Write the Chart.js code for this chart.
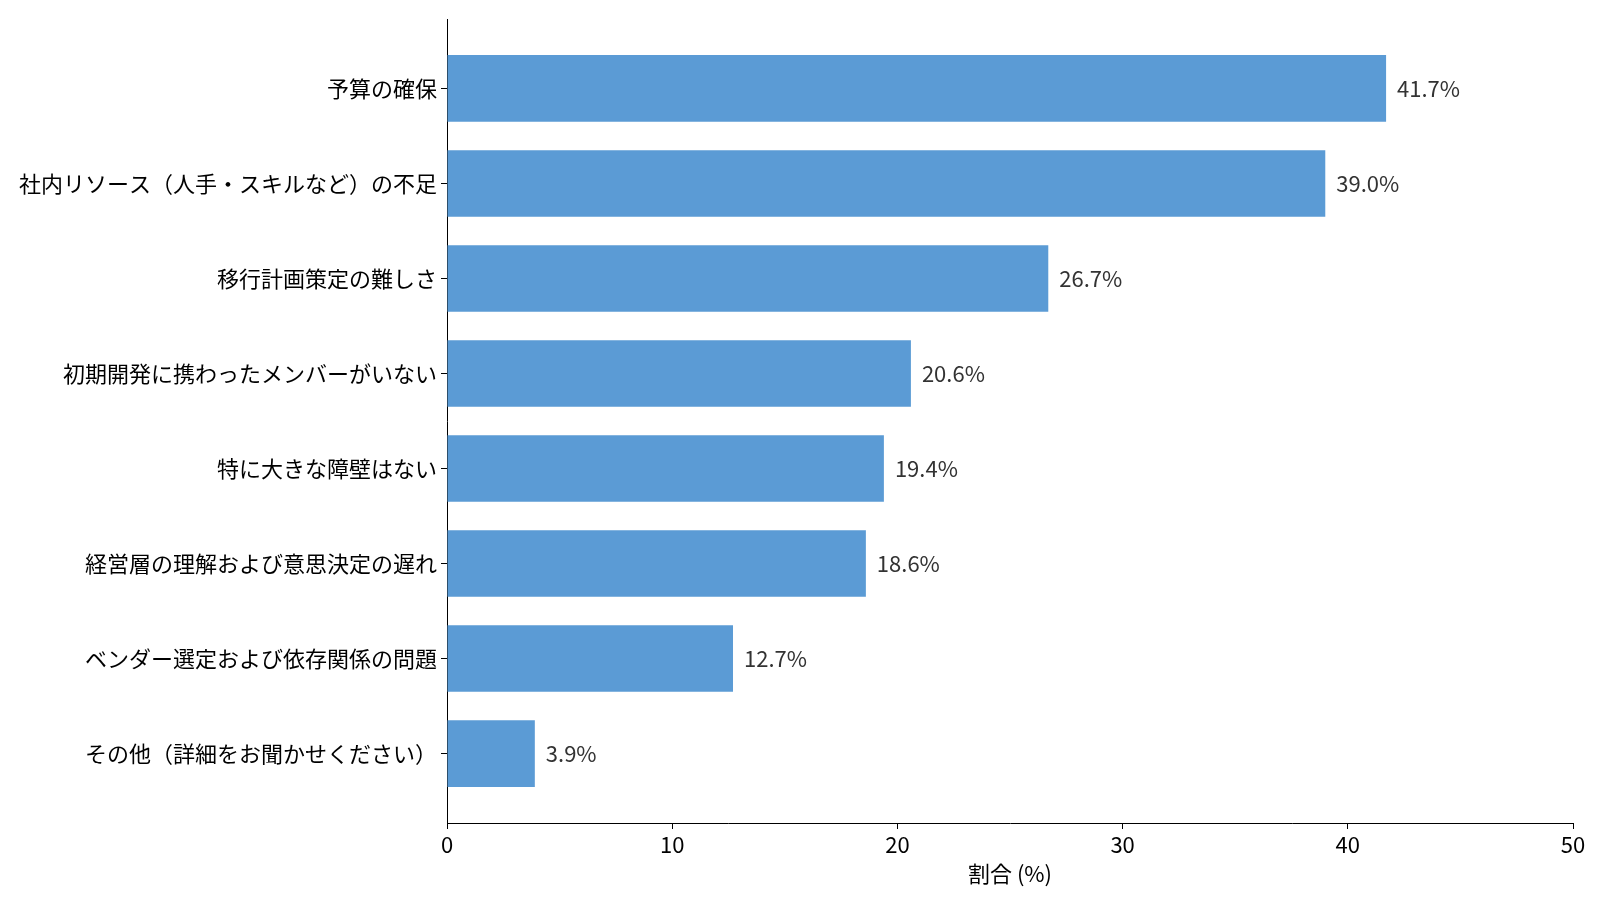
<!DOCTYPE html>
<html><head><meta charset="utf-8">
<script src="https://cdn.jsdelivr.net/npm/chart.js@4"></script>
<style>html,body{margin:0;padding:0;background:#fff;overflow:hidden}#wrap{width:1600px;height:900px}canvas{display:block}</style>
</head><body><div id="wrap"><canvas id="c" width="1600" height="900"></canvas></div>
<script>
const categories = ["予算の確保","社内リソース（人手・スキルなど）の不足","移行計画策定の難しさ","初期開発に携わったメンバーがいない","特に大きな障壁はない","経営層の理解および意思決定の遅れ","ベンダー選定および依存関係の問題","その他（詳細をお聞かせください）"];
const values = [41.7, 39.0, 26.7, 20.6, 19.4, 18.6, 12.7, 3.9];
const xTicks = [0, 10, 20, 30, 40, 50];
const xTitle = "割合 (%)";

const FONT = "'Noto Sans CJK JP', 'Noto Sans', sans-serif";
const valueLabels = {
  id: 'valueLabels',
  afterDatasetsDraw(chart) {
    const ctx = chart.ctx;
    const meta = chart.getDatasetMeta(0);
    ctx.save();
    ctx.font = "22px " + FONT;
    ctx.fillStyle = "#333333";
    ctx.textAlign = "left";
    ctx.textBaseline = "middle";
    meta.data.forEach((bar, i) => {
      ctx.fillText(values[i].toFixed(1) + "%", bar.x + 11, bar.y);
    });
    ctx.restore();
  }
};

new Chart(document.getElementById('c'), {
  type: 'bar',
  data: {
    datasets: [{
      data: values.map((v, i) => ({x: v, y: i})),
      backgroundColor: '#5B9BD5',
      borderWidth: 0,
      categoryPercentage: 0.7,
      barPercentage: 1.0
    }]
  },
  options: {
    indexAxis: 'y',
    responsive: false,
    animation: false,
    devicePixelRatio: 1,
    layout: {padding: {left: 0, right: 27, top: 19, bottom: 0}},
    plugins: {legend: {display: false}, tooltip: {enabled: false}},
    scales: {
      y: {
        type: 'linear',
        reverse: true,
        offset: false,
        min: -0.73,
        max: 7.73,
        afterBuildTicks(scale) { scale.ticks = categories.map((_, i) => ({value: i})); },
        afterFit(scale) { scale.width = 447; },
        ticks: {
          callback: (v) => categories[v],
          font: {family: FONT, size: 22},
          color: '#000',
          padding: 4,
          autoSkip: false
        },
        grid: {display: true, offset: false, drawOnChartArea: false, drawTicks: true, tickLength: 6, color: '#000'},
        border: {display: true, color: '#000', width: 1}
      },
      x: {
        type: 'linear',
        min: 0,
        max: 50,
        afterBuildTicks(scale) { scale.ticks = xTicks.map(v => ({value: v})); },
        afterFit(scale) { scale.height = 77; },
        ticks: {
          font: {family: FONT, size: 22},
          color: '#000',
          padding: 2
        },
        title: {
          display: true,
          text: xTitle,
          font: {family: FONT, size: 22},
          color: '#000',
          padding: {top: 0, bottom: 13}
        },
        grid: {display: true, drawOnChartArea: false, drawTicks: true, tickLength: 6, color: '#000'},
        border: {display: true, color: '#000', width: 1}
      }
    }
  },
  plugins: [valueLabels]
});
</script></body></html>
